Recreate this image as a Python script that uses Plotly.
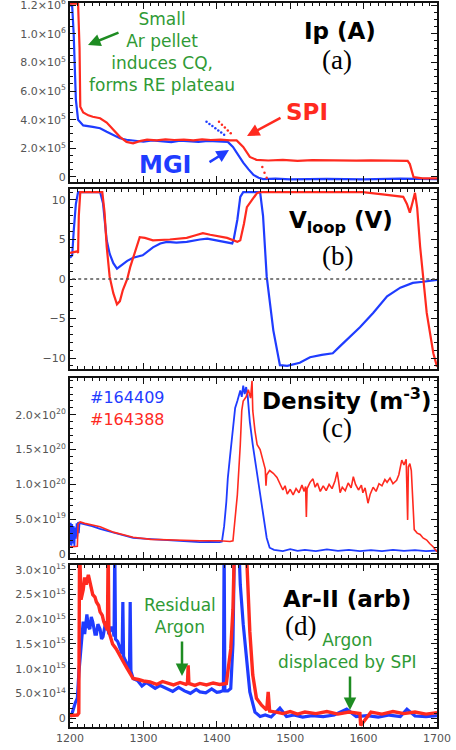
import numpy as np
import plotly.graph_objects as go

# ---------------- DATA ----------------
# Time axis in ms
# Panel (a): plasma current, units of 1e5 A
ip_t_164409 = [1200, 1203, 1205, 1207, 1208, 1211, 1218, 1231, 1241, 1250, 1259, 1268, 1277, 1290, 1300,
               1312, 1325, 1338, 1350, 1362, 1375, 1388, 1400, 1410, 1415, 1422, 1429, 1436, 1443, 1450,
               1457, 1463, 1480, 1500, 1550, 1600, 1650, 1700]
ip_164409 = [12.0, 11.9, 10.0, 7.7, 5.4, 4.0, 3.6, 3.5, 3.4, 3.15, 2.9, 2.7, 2.6, 2.52, 2.46,
             2.55, 2.48, 2.44, 2.53, 2.47, 2.45, 2.52, 2.48, 2.46, 2.45, 2.1, 1.55, 1.0, 0.55, 0.14,
             -0.05, -0.15, -0.12, -0.16, -0.13, -0.16, -0.12, -0.15]
ip_t_164388 = [1200, 1205, 1211, 1213, 1214, 1218, 1225, 1231, 1241, 1250, 1259, 1268, 1277, 1286, 1295,
               1305, 1318, 1330, 1342, 1355, 1368, 1380, 1392, 1405, 1418, 1427, 1436, 1445, 1454, 1470,
               1490, 1510, 1530, 1550, 1570, 1590, 1610, 1630, 1650, 1660, 1663, 1666, 1668, 1680, 1700]
ip_164388 = [12.1, 12.1, 12.1, 9.0, 4.9, 4.5, 4.3, 4.2, 4.1, 3.8, 3.3, 2.8, 2.45, 2.35, 2.5,
             2.6, 2.55, 2.62, 2.58, 2.6, 2.55, 2.62, 2.58, 2.6, 2.56, 2.55, 2.1, 1.4, 1.2, 1.15,
             1.2, 1.13, 1.17, 1.15, 1.18, 1.14, 1.16, 1.15, 1.17, 1.13, 0.9, 0.3, 0.0, -0.1, -0.1]
# dotted current-quench extrapolations (units of 1e5 A)
cq_t_164409 = [1386, 1390, 1394, 1398, 1402, 1406, 1410]
cq_164409 = [3.85, 3.7, 3.55, 3.4, 3.25, 3.1, 2.95]
cq_t_164388 = [1403, 1407, 1411, 1415, 1419, 1462, 1465, 1468, 1471]
cq_164388 = [3.85, 3.65, 3.45, 3.25, 3.05, 0.7, 0.3, -0.05, -0.4]

# Panel (b): loop voltage, V
vl_t_164409 = [1200, 1203, 1205, 1208, 1211, 1241, 1245, 1250, 1254, 1259, 1264, 1271, 1278, 1286, 1299,
               1313, 1323, 1332, 1345, 1359, 1370, 1377, 1387, 1398, 1411, 1421, 1423, 1428, 1432, 1436,
               1459, 1463, 1468, 1477, 1486, 1496, 1513, 1527, 1543, 1558, 1568, 1577, 1595, 1613, 1632,
               1650, 1667, 1681, 1700]
vl_164409 = [2.7, 3.0, 6.0, 9.5, 11.0, 11.0, 9.6, 4.9, 3.2, 2.0, 1.3, 1.8, 2.3, 2.7, 3.0,
             4.0, 4.5, 4.7, 4.6, 4.7, 4.9, 5.0, 5.1, 4.9, 4.6, 4.5, 5.0, 7.5, 10.4, 11.0,
             11.0, 8.0, 0.3, -6.5, -10.9, -11.0, -10.6, -9.9, -9.6, -9.4, -8.5, -7.7, -6.1, -4.3, -2.2,
             -1.1, -0.5, -0.35, -0.1]
vl_t_164388 = [1200, 1210, 1211, 1212, 1214, 1244, 1247, 1250, 1254, 1259, 1264, 1268, 1272, 1278, 1282,
               1291, 1295, 1302, 1313, 1336, 1359, 1370, 1381, 1391, 1404, 1414, 1428, 1432, 1437, 1441,
               1448, 1455, 1459, 1599, 1626, 1654, 1659, 1663, 1667, 1670, 1673, 1677, 1686, 1695, 1700]
vl_164388 = [3.3, 3.5, 3.3, 8.0, 11.0, 11.0, 8.5, 4.1, 0.3, -1.8, -3.2, -2.8, -1.4, 0.0, 1.5,
             4.1, 5.3, 5.2, 4.9, 5.0, 5.2, 5.5, 5.8, 5.6, 5.4, 5.2, 4.7, 4.9, 7.0, 9.1,
             10.0, 10.9, 11.0, 11.0, 10.7, 10.4, 9.5, 8.4, 9.8, 10.9, 9.0, 4.1, -4.3, -9.4, -11.1]

# Panel (c): density, units of 1e19 m^-3
ne_t_164409 = [1200, 1201, 1202, 1203, 1204, 1205, 1206, 1207, 1208, 1209, 1210, 1211, 1212, 1213, 1215,
               1220, 1230, 1241, 1254, 1268, 1286, 1300, 1315, 1332, 1350, 1365, 1377, 1390, 1404, 1407,
               1410, 1413, 1415, 1418, 1421, 1425, 1428, 1432, 1434, 1436, 1438, 1440, 1442, 1445, 1449,
               1456, 1463, 1468, 1472, 1478, 1490, 1500, 1510, 1520, 1535, 1550, 1565, 1580, 1595, 1610,
               1625, 1640, 1655, 1670, 1685, 1700]
ne_164409 = [1.3, 4.5, 1.2, 4.3, 1.5, 4.0, 1.0, 3.8, 2.2, 4.4, 2.5, 4.6, 3.0, 4.5, 4.4,
             4.3, 4.0, 3.6, 3.2, 2.8, 2.3, 2.2, 2.1, 2.0, 1.9, 1.8, 1.7, 1.75, 1.7, 1.8,
             4.0, 7.5, 10.9, 14.0, 16.7, 21.0, 22.0, 23.5, 22.6, 24.2, 23.0, 24.0, 22.8, 19.0, 15.7,
             10.9, 6.2, 2.3, 0.9, 0.6, 0.4, 0.7, 0.45, 0.6, 0.4, 0.65, 0.45, 0.6, 0.4, 0.55,
             0.4, 0.6, 0.45, 0.55, 0.4, 0.5]
ne_t_164388 = [1200, 1210, 1211, 1214, 1220, 1241, 1260, 1286, 1310, 1332, 1377, 1404, 1418, 1422, 1428,
               1432, 1434, 1436, 1440, 1443, 1446, 1448, 1449, 1452, 1455, 1459, 1463, 1466, 1467, 1468,
               1472, 1477, 1482, 1486, 1490, 1493, 1496, 1500, 1504, 1508, 1512, 1516, 1519, 1521, 1522,
               1523, 1527, 1531, 1534, 1537, 1541, 1545, 1549, 1553, 1557, 1561, 1564, 1566, 1568, 1571,
               1575, 1579, 1583, 1586, 1589, 1593, 1597, 1599, 1602, 1606, 1609, 1613, 1617, 1621, 1625,
               1629, 1632, 1636, 1640, 1645, 1648, 1652, 1655, 1658, 1660, 1661, 1663, 1665, 1667, 1669,
               1673, 1677, 1681, 1686, 1690, 1695, 1700]
ne_164388 = [1.0, 1.1, 4.3, 4.6, 4.4, 3.9, 3.1, 2.4, 2.1, 2.0, 1.9, 1.9, 1.8, 1.9, 8.5,
             15.7, 20.6, 22.0, 22.6, 23.6, 22.4, 24.9, 20.6, 17.7, 15.7, 15.0, 13.4, 12.2, 9.8, 11.4,
             12.0, 11.6, 11.0, 10.2, 9.2, 9.8, 8.6, 9.3, 8.5, 9.4, 8.8, 9.9, 9.0, 9.7, 5.3,
             9.4, 10.3, 10.8, 9.6, 10.2, 9.0, 9.8, 9.1, 10.0, 9.4, 10.5, 11.8, 10.4, 8.8, 9.6,
             9.1, 10.2, 9.5, 11.1, 10.0, 9.2, 9.9, 8.8, 9.5, 7.3, 8.6, 9.6, 9.0, 10.1, 9.8,
             10.7, 10.3, 10.9, 10.1, 10.6, 11.4, 13.5, 12.8, 13.6, 4.9, 12.5, 13.0, 12.0, 8.0, 3.5,
             3.0, 2.8, 2.3, 2.0, 1.5, 1.0, 0.3]

# Panel (d): Ar-II emission, units of 1e14 (arb)
ar_t_164409 = [1200, 1203, 1207, 1210, 1212, 1214, 1216, 1218, 1220, 1223, 1225, 1227, 1229, 1231, 1234,
               1236, 1238, 1241, 1243, 1245, 1248, 1250, 1253, 1256, 1259, 1260, 1261, 1262, 1265, 1268,
               1271, 1272, 1273, 1275, 1278, 1281, 1282, 1283, 1286, 1292, 1298, 1304, 1309, 1316, 1323,
               1332, 1340, 1348, 1356, 1364, 1372, 1377, 1385, 1393, 1400, 1404, 1409, 1410, 1411, 1415,
               1419, 1422, 1424, 1430, 1432, 1436, 1441, 1445, 1452, 1459, 1466, 1474, 1486, 1495, 1505,
               1517, 1530, 1545, 1560, 1577, 1590, 1605, 1620, 1635, 1650, 1659, 1670, 1685, 1700]
ar_164409 = [0.3, 1.0, 3.0, 4.0, 9.0, 12.8, 16.5, 19.5, 17.0, 21.0, 18.5, 18.0, 20.5, 19.5, 17.0,
             17.0, 19.0, 18.0, 16.0, 16.5, 19.0, 19.5, 17.0, 18.5, 17.5, 16.5, 35.0, 16.0, 15.5, 14.2,
             13.0, 23.5, 12.5, 11.8, 10.7, 10.0, 23.5, 9.5, 8.0, 7.6, 6.5, 7.2, 6.7, 6.0, 6.6,
             6.0, 5.4, 6.2, 5.5, 5.0, 5.8, 5.3, 5.1, 5.9, 5.2, 5.3, 5.6, 35.0, 5.5, 5.5,
             6.0, 15.0, 35.0, 35.0, 27.0, 19.0, 12.0, 5.3, 1.2, 0.3, 0.6, 0.2, 2.0, 0.3, 0.6,
             0.2, 0.5, 0.3, 0.6, 1.8, 0.3, 0.5, 0.2, 0.6, 0.3, 1.8, 0.4, 0.3, 0.5]
ar_t_164388 = [1200, 1210, 1212, 1213, 1215, 1218, 1220, 1222, 1225, 1228, 1231, 1234, 1236, 1239, 1241,
               1244, 1246, 1249, 1251, 1252, 1253, 1256, 1258, 1263, 1268, 1273, 1278, 1282, 1286, 1293,
               1300, 1309, 1318, 1326, 1332, 1341, 1350, 1358, 1360, 1361, 1362, 1370, 1377, 1386, 1395,
               1404, 1413, 1419, 1422, 1424, 1440, 1445, 1449, 1454, 1461, 1468, 1470, 1472, 1481, 1490,
               1500, 1510, 1520, 1535, 1550, 1565, 1580, 1595, 1596, 1610, 1625, 1640, 1655, 1670, 1685,
               1700]
ar_164388 = [0.5, 0.6, 1.0, 35.0, 24.0, 26.0, 28.5, 27.0, 29.0, 27.0, 25.0, 24.5, 23.5, 22.8, 21.5,
             20.8, 19.5, 18.5, 17.8, 35.0, 17.5, 16.0, 15.0, 14.0, 12.8, 11.3, 10.0, 9.0, 8.0, 7.8,
             7.5, 7.3, 6.8, 7.4, 7.1, 6.7, 7.2, 6.8, 7.0, 10.7, 7.0, 6.6, 7.0, 6.7, 7.1,
             6.8, 7.0, 14.0, 22.0, 35.0, 35.0, 17.5, 8.7, 4.0, 2.6, 1.6, 5.3, 1.4, 1.2, 0.9,
             1.3, 0.8, 1.2, 0.9, 1.3, 0.8, 1.2, 0.9, -1.5, 1.2, 0.8, 1.3, 0.9, 1.2, 0.8,
             1.1]

# tick labels
ip_ticks = [0, 2e5, 4e5, 6e5, 8e5, 1.0e6, 1.2e6]
ip_ticktext = ["0", "2.0×10<sup>5</sup>", "4.0×10<sup>5</sup>", "6.0×10<sup>5</sup>",
               "8.0×10<sup>5</sup>", "1.0×10<sup>6</sup>", "1.2×10<sup>6</sup>"]
vl_ticks = [-10, -5, 0, 5, 10]
vl_ticktext = ["−10", "−5", "0", "5", "10"]
ne_ticks = [0, 5e19, 1.0e20, 1.5e20, 2.0e20]
ne_ticktext = ["0", "5.0×10<sup>19</sup>", "1.0×10<sup>20</sup>", "1.5×10<sup>20</sup>", "2.0×10<sup>20</sup>"]
ar_ticks = [0, 5e14, 1.0e15, 1.5e15, 2.0e15, 2.5e15, 3.0e15]
ar_ticktext = ["0", "5.0×10<sup>14</sup>", "1.0×10<sup>15</sup>", "1.5×10<sup>15</sup>",
               "2.0×10<sup>15</sup>", "2.5×10<sup>15</sup>", "3.0×10<sup>15</sup>"]
x_ticks = [1200, 1300, 1400, 1500, 1600, 1700]

# ---------------- FIGURE ----------------
W, H = 456, 750
BLUE = "#1f3cff"
RED = "#ff2a1f"
GREEN = "#2f9a35"
GREEN_ARROW = "#1e8c22"
SANS = "DejaVu Sans"
SERIF = "Liberation Serif"


def px(x):
    return x / W


def py(y):
    return 1 - y / H


fig = go.Figure()


def add(t, v, scale, color, width, n):
    fig.add_trace(go.Scatter(x=t, y=np.array(v) * scale, mode="lines",
                             line=dict(color=color, width=width),
                             xaxis=f"x{n if n > 1 else ''}", yaxis=f"y{n if n > 1 else ''}",
                             showlegend=False, hoverinfo="skip"))


add(ip_t_164409, ip_164409, 1e5, BLUE, 2.2, 1)
add(ip_t_164388, ip_164388, 1e5, RED, 2.2, 1)
for tt, vv, cc in [(cq_t_164409, cq_164409, BLUE), (cq_t_164388, cq_164388, RED)]:
    fig.add_trace(go.Scatter(x=tt, y=np.array(vv) * 1e5, mode="markers",
                             marker=dict(color=cc, size=2.5), xaxis="x", yaxis="y",
                             showlegend=False, hoverinfo="skip"))
add(vl_t_164409, vl_164409, 1, BLUE, 2.2, 2)
add(vl_t_164388, vl_164388, 1, RED, 2.2, 2)
add(ne_t_164409, ne_164409, 1e19, BLUE, 1.8, 3)
add(ne_t_164388, ne_164388, 1e19, RED, 1.6, 3)
add(ar_t_164409, ar_164409, 1e14, BLUE, 3.2, 4)
add(ar_t_164388, ar_164388, 1e14, RED, 3.4, 4)

xdom = [px(70), px(437)]
panels = {
    1: dict(top=3, bot=182, rng=[-0.35e5, 12.14e5], tv=ip_ticks, tt=ip_ticktext, minor=5e4),
    2: dict(top=189, bot=369, rng=[-11.39, 11.39], tv=vl_ticks, tt=vl_ticktext, minor=1),
    3: dict(top=378, bot=558, rng=[-0.58e19, 25.3e19], tv=ne_ticks, tt=ne_ticktext, minor=1e19),
    4: dict(top=565, bot=727, rng=[-1.82e14, 31.0e14], tv=ar_ticks, tt=ar_ticktext, minor=1e14),
}
tickfont = dict(family=SANS, size=11, color="#555555")
layout = {}
for n, p in panels.items():
    s = "" if n == 1 else str(n)
    layout[f"xaxis{s}"] = dict(
        domain=xdom, anchor=f"y{s}", range=[1200, 1700], tickmode="array", tickvals=x_ticks,
        showticklabels=(n == 4), ticks="inside", ticklen=6, tickwidth=1.3, tickcolor="#111",
        showline=True, linecolor="#111", linewidth=2, mirror="allticks", automargin=False,
        ticklabeloverflow="allow",
        minor=dict(ticks="inside", ticklen=3, tickcolor="#111", tickmode="linear", tick0=1200, dtick=10),
        showgrid=False, zeroline=False, tickfont=tickfont, fixedrange=True)
    layout[f"yaxis{s}"] = dict(
        domain=[py(p["bot"]), py(p["top"])], anchor=f"x{s}", range=p["rng"], tickmode="array",
        tickvals=p["tv"], ticktext=p["tt"], ticks="inside", ticklen=6, tickwidth=1.3, tickcolor="#111",
        showline=True, linecolor="#111", linewidth=2, mirror="allticks", automargin=False,
        ticklabeloverflow="allow",
        minor=dict(ticks="inside", ticklen=3, tickcolor="#111", tickmode="linear", tick0=0, dtick=p["minor"]),
        showgrid=False, zeroline=False, tickfont=tickfont, fixedrange=True)

ann = []


def text(x, y, s, size, color="black", family=SANS, xanchor="center"):
    ann.append(dict(x=px(x), y=py(y), xref="paper", yref="paper", text=s, showarrow=False,
                    xanchor=xanchor, yanchor="middle", font=dict(family=family, size=size, color=color)))


def arrow(tail, tip, color, width=2.5):
    ann.append(dict(x=px(tip[0]), y=py(tip[1]), xref="paper", yref="paper", text="",
                    showarrow=True, ax=tail[0] - tip[0], ay=tail[1] - tip[1],
                    arrowhead=2, arrowsize=1.0, arrowwidth=width, arrowcolor=color))


# panel a
text(340, 31, "<b>Ip (A)</b>", 23)
text(337, 60, "(a)", 27, family=SERIF)
text(162, 52, "Small<br>Ar pellet<br>induces CQ,<br>forms RE plateau", 17, GREEN)
arrow((120, 32), (88, 45), GREEN_ARROW)
text(307, 112, "<b>SPI</b>", 23, RED)
arrow((282, 117), (247, 136), RED)
text(165, 165, "<b>MGI</b>", 24, BLUE)
arrow((208, 163), (229, 150), BLUE)
# panel b
text(341, 222, "<b>V<sub>loop</sub> (V)</b>", 23)
text(337, 256, "(b)", 27, family=SERIF)
# panel c
text(88, 398, "#164409", 16, BLUE, xanchor="left")
text(88, 419, "#164388", 16, RED, xanchor="left")
text(347, 399, "<b>Density (m<sup>-3</sup>)</b>", 23)
text(337, 428, "(c)", 27, family=SERIF)
# panel d
text(347, 599, "<b>Ar-II (arb)</b>", 23)
text(300, 626, "(d)", 27, family=SERIF)
text(180, 616, "Residual<br>Argon", 17, GREEN)
arrow((182, 640), (182, 676), GREEN_ARROW)
text(347, 651, "Argon<br>displaced by SPI", 17, GREEN)
arrow((350, 675), (350, 710), GREEN_ARROW)

shapes = [dict(type="line", xref="x2", yref="y2", x0=1203, x1=1697, y0=0, y1=0,
               line=dict(color="#555555", width=1.6, dash="dot"))]

fig.update_layout(width=W, height=H, margin=dict(l=0, r=0, t=0, b=0, autoexpand=False), autosize=False,
                  paper_bgcolor="white", plot_bgcolor="white", showlegend=False,
                  annotations=ann, shapes=shapes, **layout)
fig.write_html("out.html", config={"displayModeBar": False},
               post_script="document.body.style.margin='0px';document.body.style.overflow='hidden';")
